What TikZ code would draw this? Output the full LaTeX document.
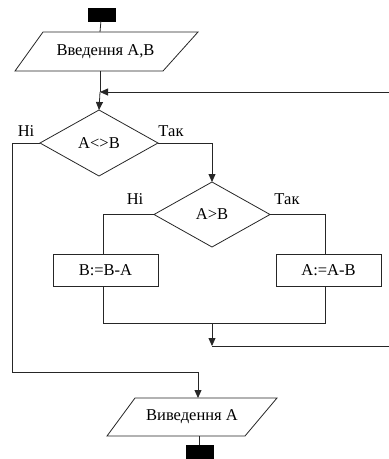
\documentclass[tikz,border=0pt]{standalone}
\usepackage{fontspec}
\setmainfont{Liberation Serif}
\usetikzlibrary{shapes.geometric,arrows.meta}
\begin{document}
\begin{tikzpicture}[x=1pt,y=-1pt,
  line/.style={draw=black!85, line width=0.8pt},
  arr/.style={line, -{Triangle[length=8pt,width=7pt]}},
  txt/.style={font=\fontsize{16.5}{16.5}\selectfont, inner sep=0pt},
  lbl/.style={font=\fontsize{16.5}{16.5}\selectfont, inner sep=0pt},
  term/.style={fill=black, draw=black, minimum width=27pt, minimum height=13pt, inner sep=0pt},
  proc/.style={line, rectangle, minimum width=105pt, minimum height=32pt, inner sep=0pt, font=\fontsize{16.5}{16.5}\selectfont}
]
\useasboundingbox (0,0) rectangle (389,459);
% start terminal
\node[term] (start) at (101.5,14.5) {};
% input parallelogram
\path[line] (43,32) -- (198,32) -- (163,71) -- (15,71) -- cycle;
\coordinate (inTop) at (100,32);
\coordinate (inBot) at (100,71);
\node[txt] (inText) at (105.5,51.5) {Введення А,В};
\draw[line] (start) -- (inTop);
% diamond 1
\coordinate (d1c) at (99,143);
\path[line] (99,110) -- (158,143) -- (99,176) -- (40,143) -- cycle;
\coordinate (d1t) at (99,110);
\coordinate (d1l) at (40,143);
\coordinate (d1r) at (158,143);
\node[txt] (d1text) at (d1c) {A<>B};
\node[lbl] (no1) at (26,131) {Ні};
\node[lbl] (yes1) at (171,131) {Так};
% loop junction
\coordinate (j1) at (100,92);
\coordinate (loopR1) at (389,92);
\draw[line] (inBot) -- (j1);
\draw[arr] (j1) -- (d1t);
\draw[arr] (loopR1) -- (j1);
% diamond 2
\coordinate (d2c) at (212,214.5);
\path[line] (212,182) -- (270,214.5) -- (212,247) -- (154,214.5) -- cycle;
\coordinate (d2t) at (212,182);
\coordinate (d2l) at (154,214.5);
\coordinate (d2r) at (270,214.5);
\node[txt] (d2text) at (d2c) {A>B};
\node[lbl] (no2) at (135,199) {Ні};
\node[lbl] (yes2) at (287,199) {Так};
\draw[arr] (d1r) -| (d2t);
% process boxes
\node[proc] (pB) at (105.5,270) {B:=B-A};
\node[proc] (pA) at (328.5,270) {A:=A-B};
\draw[line] (d2l) -| (pB.north -| 103,0);
\draw[line] (d2r) -| (pA.north -| 325,0);
% merge
\coordinate (mL) at (103,323);
\coordinate (mR) at (325,323);
\coordinate (mC) at (212,323);
\coordinate (m2) at (212,346);
\coordinate (loopR2) at (389,346);
\draw[line] (pB.south -| 103,0) -- (mL) -- (mR) -- (pA.south -| 325,0);
\draw[arr] (mC) -- (m2);
\draw[line] (m2) -- (loopR2);
% no branch of diamond 1
\coordinate (nL) at (12,143);
\coordinate (nB) at (12,372);
\coordinate (nR) at (198,372);
% output parallelogram
\path[line] (135,398) -- (277,398) -- (245,436) -- (107,436) -- cycle;
\coordinate (outTop) at (198,398);
\coordinate (outBot) at (199,436);
\node[txt] (outText) at (192,417) {Виведення А};
\draw[line] (d1l) -- (nL) -- (nB) -- (nR);
\draw[arr] (nR) -- (outTop);
% end terminal
\node[term, anchor=north] (stop) at (200,445) {};
\draw[line] (outBot) -- (outBot |- stop.north);
\end{tikzpicture}
\end{document}
